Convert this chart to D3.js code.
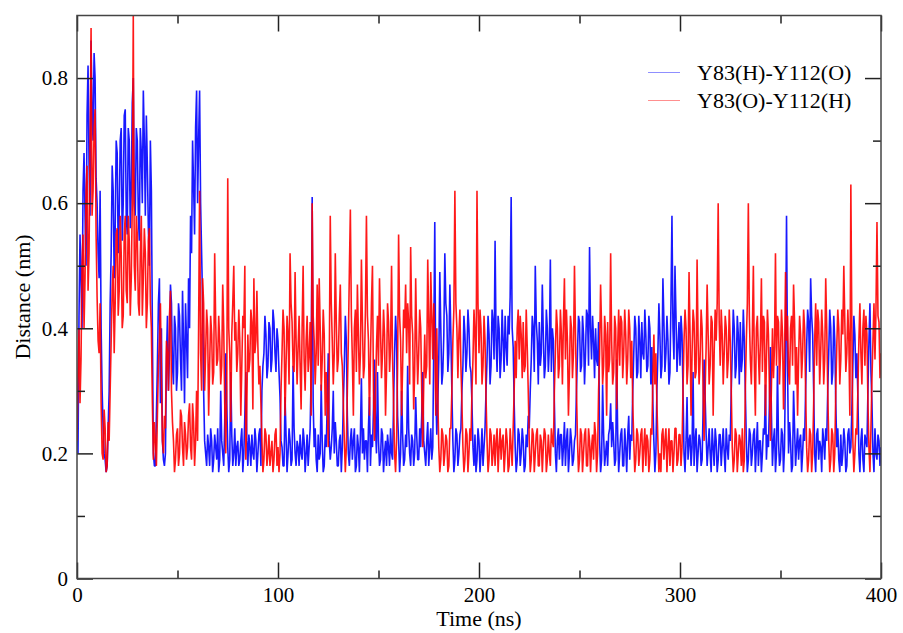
<!DOCTYPE html>
<html lang="en">
<head>
<meta charset="UTF-8">
<script src="https://cdn.jsdelivr.net/npm/d3@7"></script>
<style>
  body { margin: 0; background: #fff; }
  text { font-family: 'Liberation Serif', 'Times New Roman', serif; fill: #000; }
</style>
</head>
<body>
<div id="chart"></div>
<script>
// frames on whole ns (0..400) and half ns (0.5..399.5)
var times = d3.range(0, 401);
var halfTimes = d3.range(0.5, 400, 1);

// Y83(H)-Y112(O) distance on whole ns (hundredths of nm)
var blueCenti = [
  30,42,48,62,58,74,66,86,70,80,
  60,48,40,24,19,18,30,52,62,56,
  68,58,72,60,75,55,70,62,80,58,
  70,54,68,78,58,66,50,62,20,18,
  34,48,40,19,20,42,36,44,31,40,
  33,42,30,38,44,32,40,52,63,72,
  60,78,52,30,20,23,18,22,19,21,
  24,19,22,18,36,21,19,23,20,18,
  22,19,24,20,33,18,21,23,19,22,
  20,24,30,36,39,34,40,35,41,33,
  38,29,21,18,23,20,22,19,24,18,
  21,23,19,22,20,18,24,61,21,19,
  23,20,22,18,21,36,19,24,20,22,
  18,23,21,34,38,20,22,19,24,18,
  21,23,20,19,22,24,18,21,35,20,
  22,19,23,20,18,21,24,19,36,38,
  22,20,23,19,21,24,18,22,20,23,
  19,21,33,20,22,18,24,21,57,23,
  35,40,33,52,42,36,39,22,19,23,
  20,24,34,39,36,40,33,21,23,19,
  22,20,18,24,35,39,34,41,54,33,
  40,35,38,42,34,39,61,37,21,19,
  23,20,22,18,21,24,35,40,50,38,
  41,36,39,34,40,37,33,38,20,22,
  19,23,21,18,24,20,22,19,23,36,
  41,34,39,36,42,53,35,38,40,34,
  22,19,23,20,18,24,21,22,19,23,
  20,24,18,21,23,19,22,36,40,33,
  38,41,35,39,34,40,37,22,20,36,
  39,34,41,36,38,33,58,35,42,37,
  34,39,20,22,19,23,21,18,24,20,
  22,19,35,23,21,20,24,18,22,19,
  23,21,20,24,19,22,36,40,34,39,
  41,35,38,22,19,23,20,24,21,18,
  22,20,23,19,21,37,18,24,20,22,
  19,23,21,58,20,22,18,24,21,19,
  23,20,22,37,41,48,39,20,23,19,
  21,24,19,22,36,40,33,38,21,19,
  23,20,22,18,24,21,34,39,36,20,
  22,19,23,21,38,33,20,24,19,22,
  21
];

// Y83(H)-Y112(O) distance on half ns
var blueHalfCenti = [
  20,55,40,68,50,82,58,74,84,64,
  52,62,30,20,17,24,44,66,48,70,
  52,70,54,74,58,72,56,76,60,72,
  58,72,60,70,74,56,70,40,18,26,
  44,28,22,18,35,30,47,34,42,30,
  44,35,46,28,38,48,58,70,55,78,
  70,60,44,22,18,21,24,17,23,19,
  17,30,20,25,28,17,33,18,24,21,
  18,22,17,26,22,23,18,20,24,17,
  23,18,34,42,32,41,33,43,36,40,
  33,22,18,29,17,24,18,34,20,22,
  18,20,24,17,23,21,33,28,24,17,
  19,31,17,23,28,22,21,30,25,18,
  22,17,28,42,26,18,24,22,17,23,
  17,32,24,22,17,29,23,27,24,33,
  18,24,17,22,23,18,20,28,42,26,
  17,30,18,23,34,20,23,18,29,19,
  24,26,22,18,25,21,19,38,30,28,
  49,31,39,44,33,47,30,17,24,18,
  23,30,42,33,43,34,28,18,17,24,
  17,24,21,30,42,31,43,35,38,42,
  32,43,33,37,42,45,40,28,17,24,
  18,24,17,23,26,30,42,33,41,31,
  34,47,32,43,33,51,40,28,17,24,
  23,18,25,22,17,24,18,22,30,42,
  33,42,31,43,34,40,42,32,35,41,
  17,31,18,22,23,28,25,18,35,17,
  23,18,24,17,26,23,30,42,32,42,
  32,36,43,33,42,31,28,17,30,44,
  32,48,33,42,31,44,40,50,33,41,
  42,30,17,29,22,18,33,22,17,23,
  18,27,29,18,24,17,21,24,17,23,
  18,24,17,21,23,30,43,32,42,31,
  33,43,30,17,24,18,23,17,25,22,
  17,24,31,23,28,26,22,17,34,18,
  24,17,35,34,25,17,30,18,24,22,
  17,24,30,43,33,42,30,17,24,22,
  17,22,24,30,43,31,42,28,24,17,
  18,24,17,23,20,27,42,32,29,17,
  24,17,22,30,44,28,17,20,23,18
];

// Y83(O)-Y112(H) distance on whole ns (hundredths of nm)
var redCenti = [
  22,40,35,55,48,66,52,88,62,75,
  45,36,28,19,24,18,22,38,50,44,
  56,46,52,42,58,44,54,48,90,46,
  55,42,58,48,52,44,56,40,19,22,
  26,38,32,20,24,36,42,30,22,19,
  24,20,26,18,23,21,28,19,25,22,
  22,62,30,44,36,40,34,39,33,41,
  35,38,34,40,20,64,36,39,50,41,
  36,38,34,40,19,39,35,41,48,38,
  37,34,22,19,23,20,18,22,19,24,
  21,20,36,40,34,39,52,41,33,38,
  37,34,40,35,38,33,41,60,38,36,
  34,40,35,39,33,21,58,38,36,41,
  35,47,34,22,21,38,59,35,40,33,
  39,36,41,34,58,38,35,50,22,37,
  34,40,36,39,33,41,37,35,20,22,
  55,38,34,40,36,41,53,39,33,38,
  36,40,21,39,34,41,49,35,38,40,
  21,19,23,20,22,18,24,38,62,40,
  39,34,21,19,23,20,22,35,39,62,
  36,40,34,38,22,19,23,20,18,24,
  21,19,23,20,22,18,21,24,38,40,
  35,39,41,34,37,22,19,23,20,24,
  18,22,21,23,19,20,24,21,36,40,
  34,39,41,35,38,33,40,36,39,22,
  19,23,20,24,18,22,21,19,23,20,
  36,40,34,39,41,35,38,33,40,37,
  34,41,36,39,35,40,38,22,19,23,
  20,24,21,18,22,19,23,39,36,22,
  20,23,19,24,21,18,22,20,24,19,
  23,21,38,40,34,39,36,41,33,38,
  35,40,22,37,39,34,41,36,38,60,
  34,39,36,40,35,38,21,19,23,20,
  22,24,19,38,60,35,39,34,40,36,
  38,33,41,35,39,22,40,37,34,41,
  36,39,35,38,33,40,34,41,37,35,
  39,36,40,21,19,23,20,38,34,41,
  36,39,35,40,22,19,23,20,37,40,
  35,39,41,36,38,63,22,20,23,38,
  36,40,34,39,21,24,38,35,57,41,
  36
];

// Y83(O)-Y112(H) distance on half ns
var redHalfCenti = [
  32,28,50,40,62,46,70,58,72,55,
  38,44,20,27,17,25,30,46,36,55,
  42,58,40,55,46,58,42,60,50,58,
  44,52,42,56,40,54,44,28,25,18,
  34,44,22,26,38,30,46,25,17,23,
  18,27,21,25,19,26,21,28,18,30,
  40,36,48,30,43,26,42,31,52,34,
  42,31,47,28,30,40,25,44,38,33,
  43,26,42,50,28,33,43,27,36,46,
  31,28,17,24,18,23,20,17,23,18,
  17,30,43,26,42,31,44,34,49,31,
  42,27,50,30,42,36,26,42,31,47,
  48,30,43,26,28,34,44,31,52,33,
  42,36,28,17,30,49,42,26,43,47,
  31,51,32,43,42,26,44,30,29,42,
  48,32,43,26,44,33,50,28,17,34,
  42,26,43,47,44,31,42,27,48,31,
  43,30,31,32,51,31,42,44,26,29,
  17,24,18,23,17,24,30,43,44,32,
  43,28,17,24,17,24,30,43,31,44,
  43,31,42,29,17,24,18,23,22,17,
  24,22,17,24,17,24,18,30,32,43,
  42,32,33,43,30,17,24,17,23,18,
  23,17,24,17,23,18,22,30,43,32,
  43,31,48,43,26,42,32,50,30,17,
  24,17,23,18,24,17,23,25,17,30,
  47,31,42,26,33,52,31,42,27,43,
  42,32,43,31,43,32,28,17,24,18,
  23,17,24,23,17,24,32,31,28,17,
  17,24,22,17,24,22,17,24,18,23,
  18,30,43,31,49,26,43,32,51,31,
  43,30,30,47,31,42,26,43,44,41,
  43,31,42,32,43,30,17,24,17,23,
  18,17,30,44,42,31,50,26,42,31,
  48,42,26,43,30,31,32,52,42,31,
  43,27,49,42,31,42,47,31,26,42,
  32,43,30,17,24,17,28,44,43,31,
  43,31,48,30,17,24,17,30,43,31,
  43,50,33,43,26,40,17,24,30,44,
  31,43,42,28,17,32,44,43,42,32
];

var seriesNames = ["Y83(H)-Y112(O)", "Y83(O)-Y112(H)"];
var seriesColors = ["#0000ff", "#ff0000"];
var legendColors = ["#8f8fff", "#ff8f8f"];
var xMajorTicks = [0, 100, 200, 300, 400];
var xMinorTicks = [50, 150, 250, 350];
var yMajorTicks = [0, 0.2, 0.4, 0.6, 0.8];
var yMinorTicks = [0.1, 0.3, 0.5, 0.7];

(function() {
var width = 903, height = 633;
var plotLeft = 77, plotRight = 881, plotTop = 15.5, plotBottom = 578.5;

var svg = d3.select("#chart").append("svg")
  .attr("width", width)
  .attr("height", height);

var x = d3.scaleLinear().domain([0, 400]).range([plotLeft, plotRight]);
var y = d3.scaleLinear().domain([0, 0.9]).range([plotBottom, plotTop]);

svg.append("clipPath").attr("id", "plotclip")
  .append("rect")
  .attr("x", plotLeft).attr("y", plotTop)
  .attr("width", plotRight - plotLeft).attr("height", plotBottom - plotTop);

var line = d3.line()
  .x(function(d) { return x(d[0]); })
  .y(function(d) { return y(d[1]); });

// merge whole-ns and half-ns frames into one time-ordered trace
function buildSeries(whole, half) {
  var pts = [];
  times.forEach(function(t, i) {
    pts.push([t, whole[i] / 100]);
    if (i < halfTimes.length) pts.push([halfTimes[i], half[i] / 100]);
  });
  return pts;
}

var series = [
  buildSeries(blueCenti, blueHalfCenti),
  buildSeries(redCenti, redHalfCenti)
];

var plot = svg.append("g").attr("clip-path", "url(#plotclip)");
series.forEach(function(s, i) {
  plot.append("path")
    .datum(s)
    .attr("fill", "none")
    .attr("stroke", seriesColors[i])
    .attr("stroke-width", 1.6)
    .attr("stroke-opacity", 0.9)
    .attr("stroke-linejoin", "bevel")
    .attr("d", line);
});

// axes: ticks pointing inward on all four sides, xmgrace style
function styleAxis(g) {
  g.select(".domain").remove();
  g.selectAll(".tick line").attr("stroke", "#222").attr("stroke-width", 1.5);
  g.selectAll(".tick text")
    .style("font-family", "'Liberation Serif', serif")
    .style("font-size", "21px")
    .attr("fill", "#000");
}

svg.append("g").attr("transform", "translate(0," + plotBottom + ")")
  .call(d3.axisBottom(x).tickValues(xMajorTicks).tickSize(-16).tickPadding(9).tickFormat(d3.format("d")))
  .call(styleAxis);
svg.append("g").attr("transform", "translate(0," + plotBottom + ")")
  .call(d3.axisBottom(x).tickValues(xMinorTicks).tickSize(-8).tickFormat(""))
  .call(styleAxis);
svg.append("g").attr("transform", "translate(0," + plotTop + ")")
  .call(d3.axisTop(x).tickValues(xMajorTicks).tickSize(-16).tickFormat(""))
  .call(styleAxis);
svg.append("g").attr("transform", "translate(0," + plotTop + ")")
  .call(d3.axisTop(x).tickValues(xMinorTicks).tickSize(-8).tickFormat(""))
  .call(styleAxis);

svg.append("g").attr("transform", "translate(" + plotLeft + ",0)")
  .call(d3.axisLeft(y).tickValues(yMajorTicks).tickSize(-16).tickPadding(9)
    .tickFormat(function(d) { return d === 0 ? "0" : d3.format(".1f")(d); }))
  .call(styleAxis);
svg.append("g").attr("transform", "translate(" + plotLeft + ",0)")
  .call(d3.axisLeft(y).tickValues(yMinorTicks).tickSize(-8).tickFormat(""))
  .call(styleAxis);
svg.append("g").attr("transform", "translate(" + plotRight + ",0)")
  .call(d3.axisRight(y).tickValues(yMajorTicks).tickSize(-16).tickFormat(""))
  .call(styleAxis);
svg.append("g").attr("transform", "translate(" + plotRight + ",0)")
  .call(d3.axisRight(y).tickValues(yMinorTicks).tickSize(-8).tickFormat(""))
  .call(styleAxis);

// frame
svg.append("rect")
  .attr("x", plotLeft).attr("y", plotTop)
  .attr("width", plotRight - plotLeft).attr("height", plotBottom - plotTop)
  .attr("fill", "none")
  .attr("stroke", "#444")
  .attr("stroke-width", 1.5);

// axis titles
svg.append("text")
  .attr("x", (plotLeft + plotRight) / 2)
  .attr("y", 626)
  .attr("text-anchor", "middle")
  .style("font-size", "22px")
  .text("Time (ns)");

svg.append("text")
  .attr("transform", "translate(30," + ((plotTop + plotBottom) / 2) + ") rotate(-90)")
  .attr("text-anchor", "middle")
  .style("font-size", "22px")
  .text("Distance (nm)");

// legend
var legend = svg.append("g");
seriesNames.forEach(function(name, i) {
  var ly = 72.5 + i * 28;
  legend.append("line")
    .attr("x1", 648).attr("x2", 680)
    .attr("y1", ly).attr("y2", ly)
    .attr("stroke", legendColors[i])
    .attr("stroke-width", 1);
  legend.append("text")
    .attr("x", 697)
    .attr("y", ly + 7)
    .style("font-size", "22px")
    .text(name);
});
})();
</script>
</body>
</html>
